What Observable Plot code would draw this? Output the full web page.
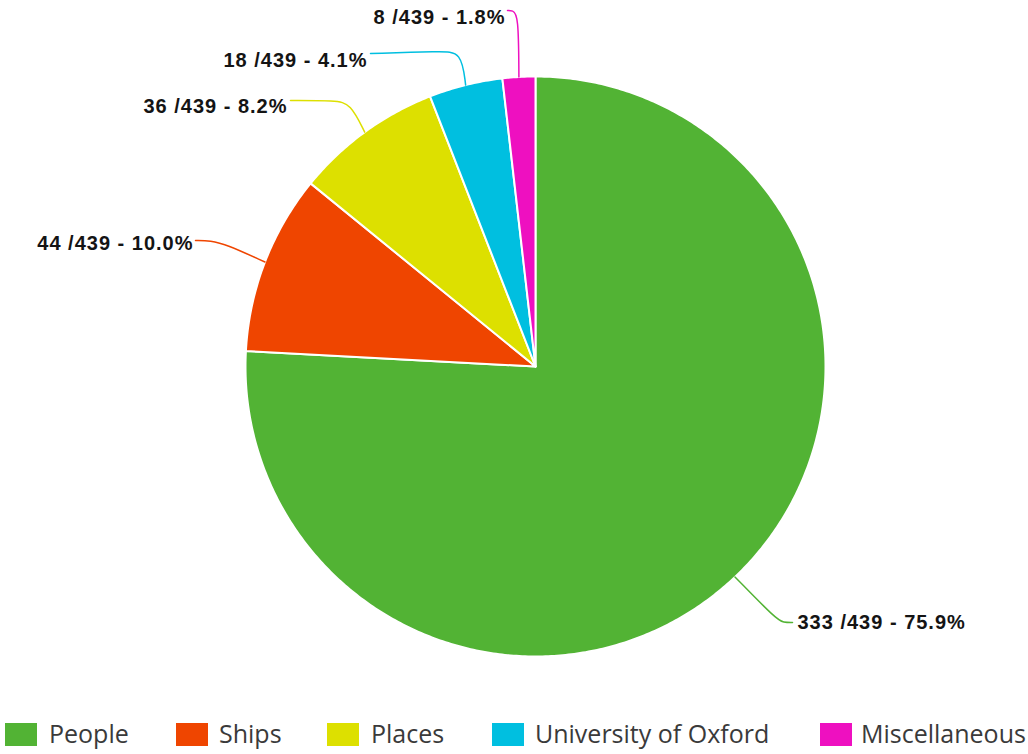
<!DOCTYPE html>
<html>
<head>
<meta charset="utf-8">
<script src="https://cdn.jsdelivr.net/npm/d3@7"></script>
<script src="https://cdn.jsdelivr.net/npm/@observablehq/plot@0.6"></script>
<style>
  html, body { margin: 0; padding: 0; background: #fff; }
  #wrap { position: relative; width: 1028px; height: 754px; overflow: hidden; }
  #legend { position: absolute; left: 0; top: 690px; width: 1028px; height: 64px; }
  .item { position: absolute; top: 0; height: 64px; }
  .sw { position: absolute; top: 33px; width: 32px; height: 23px; }
  .lb { position: absolute; top: 27px; font-family: "Open Sans", sans-serif; font-size: 25px; line-height: 32px; color: #3a3a3a; white-space: nowrap; }
</style>
</head>
<body>
<div id="wrap"><div id="chart"></div><div id="legend"></div></div>
<script>
// ---- data ----
const categories = ["People", "Ships", "Places", "University of Oxford", "Miscellaneous"];
const counts = [333, 44, 36, 18, 8];
const total = 439;
const colors = ["#52b334", "#ef4500", "#dde000", "#00bfe0", "#ee10c0"];

// ---- layout (pixels) ----
const W = 1028, H = 690, CX = 535, CY = 366, R = 290;
// label anchor points and connector bend points (pixels)
const labelAnchor = ["start", "end", "end", "end", "end"];
const labelPx = [[797, 622], [193, 243], [287, 106], [367, 60], [505, 17]];
const connectorPx = [
  [[776, 619], [783, 622], [792, 622]],
  [[226, 244], [210, 240], [195, 240]],
  [[350, 103], [335, 100], [290, 100]],
  [[461, 51], [440, 51], [370, 53]],
  [[518, 14], [512, 10], [507, 10]]
];
const legendSwatchX = [5, 176, 327, 492, 820];
const legendTextX = [49, 219, 371, 535, 861];

const px2x = (px) => (px - CX) / R;
const py2y = (py) => (CY - py) / R;

// ---- slices ----
const slices = [];
const connectors = [];
const labels = [];
let cum = 0;
categories.forEach((name, i) => {
  const a0 = cum / total * 2 * Math.PI;
  cum += counts[i];
  const a1 = cum / total * 2 * Math.PI;
  const steps = Math.max(2, Math.ceil((a1 - a0) / 0.01));
  slices.push({name, x: 0, y: 0});
  for (let k = 0; k <= steps; k++) {
    const a = a0 + (a1 - a0) * k / steps;
    slices.push({name, x: Math.sin(a), y: Math.cos(a)});
  }
  slices.push({name, x: 0, y: 0});
  const mid = (a0 + a1) / 2;
  connectors.push({name, x: Math.sin(mid), y: Math.cos(mid)});
  connectorPx[i].forEach(([px, py]) => connectors.push({name, x: px2x(px), y: py2y(py)}));
  const pct = (counts[i] / total * 100).toFixed(1);
  labels.push({name, anchor: labelAnchor[i], x: px2x(labelPx[i][0]), y: py2y(labelPx[i][1]),
    text: `${counts[i]} /${total} - ${pct}%`});
});

const chart = Plot.plot({
  width: W, height: H, margin: 0,
  x: {domain: [px2x(0), px2x(W)], axis: null},
  y: {domain: [py2y(H), py2y(0)], axis: null},
  color: {domain: categories, range: colors},
  style: {fontFamily: "'Liberation Sans', Arial, sans-serif", letterSpacing: "1px", background: "#fff"},
  marks: [
    Plot.line(slices, {x: "x", y: "y", z: "name", fill: "name", stroke: "white", strokeWidth: 2, strokeLinejoin: "round"}),
    Plot.line(connectors, {x: "x", y: "y", z: "name", stroke: "name", strokeWidth: 1.5, curve: "basis"}),
    Plot.text(labels.filter(d => d.anchor === "end"), {x: "x", y: "y", text: "text", textAnchor: "end", fontSize: 20, fontWeight: "bold", fill: "#141414"}),
    Plot.text(labels.filter(d => d.anchor === "start"), {x: "x", y: "y", text: "text", textAnchor: "start", fontSize: 20, fontWeight: "bold", fill: "#141414"})
  ]
});
document.getElementById("chart").appendChild(chart);

const legend = document.getElementById("legend");
categories.forEach((name, i) => {
  const sw = document.createElement("div");
  sw.className = "sw";
  sw.style.left = legendSwatchX[i] + "px";
  sw.style.background = colors[i];
  legend.appendChild(sw);
  const lb = document.createElement("div");
  lb.className = "lb";
  lb.style.left = legendTextX[i] + "px";
  lb.textContent = name;
  legend.appendChild(lb);
});
</script>
</body>
</html>
